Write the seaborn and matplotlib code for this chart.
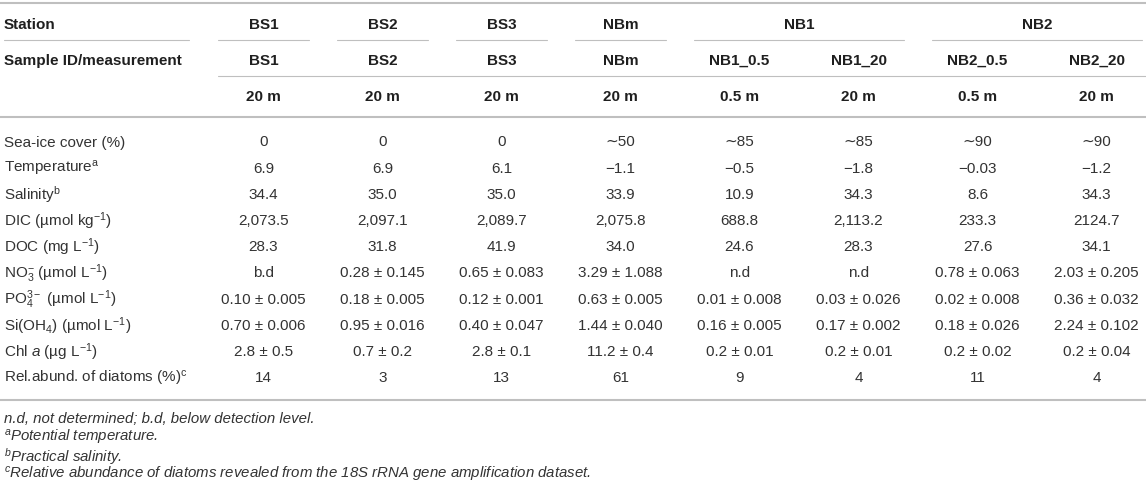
import numpy as np
import matplotlib
matplotlib.use("Agg")
import matplotlib.pyplot as plt
import seaborn as sns
from matplotlib.colors import ListedColormap

# Table content
stations = ["BS1", "BS2", "BS3", "NBm", "NB1", "NB2"]
station_spans = [1, 1, 1, 1, 2, 2]
sample_ids = ["BS1", "BS2", "BS3", "NBm", "NB1_0.5", "NB1_20", "NB2_0.5", "NB2_20"]
depths = ["20 m", "20 m", "20 m", "20 m", "0.5 m", "20 m", "0.5 m", "20 m"]

row_labels = [
    "Sea-ice cover (%)",
    r"Temperature$^{\mathrm{a}}$",
    r"Salinity$^{\mathrm{b}}$",
    r"DIC (µmol kg$^{-1}$)",
    r"DOC (mg L$^{-1}$)",
    r"NO$_{3}^{-}$ (µmol L$^{-1}$)",
    r"PO$_{4}^{3-}$ (µmol L$^{-1}$)",
    r"Si(OH$_{4}$) (µmol L$^{-1}$)",
    r"Chl $\mathit{a}$ (µg L$^{-1}$)",
    r"Rel.abund. of diatoms (%)$^{\mathrm{c}}$",
]

sea_ice = ["0", "0", "0", "∼50", "∼85", "∼85", "∼90", "∼90"]
temperature = ["6.9", "6.9", "6.1", "−1.1", "−0.5", "−1.8", "−0.03", "−1.2"]
salinity = ["34.4", "35.0", "35.0", "33.9", "10.9", "34.3", "8.6", "34.3"]
dic = ["2,073.5", "2,097.1", "2,089.7", "2,075.8", "688.8", "2,113.2", "233.3", "2124.7"]
doc = ["28.3", "31.8", "41.9", "34.0", "24.6", "28.3", "27.6", "34.1"]
no3 = ["b.d", "0.28 ± 0.145", "0.65 ± 0.083", "3.29 ± 1.088", "n.d", "n.d",
       "0.78 ± 0.063", "2.03 ± 0.205"]
po4 = ["0.10 ± 0.005", "0.18 ± 0.005", "0.12 ± 0.001", "0.63 ± 0.005",
       "0.01 ± 0.008", "0.03 ± 0.026", "0.02 ± 0.008", "0.36 ± 0.032"]
sioh4 = ["0.70 ± 0.006", "0.95 ± 0.016", "0.40 ± 0.047", "1.44 ± 0.040",
         "0.16 ± 0.005", "0.17 ± 0.002", "0.18 ± 0.026", "2.24 ± 0.102"]
chl_a = ["2.8 ± 0.5", "0.7 ± 0.2", "2.8 ± 0.1", "11.2 ± 0.4",
         "0.2 ± 0.01", "0.2 ± 0.01", "0.2 ± 0.02", "0.2 ± 0.04"]
diatoms = ["14", "3", "13", "61", "9", "4", "11", "4"]

footnotes = [
    "n.d, not determined; b.d, below detection level.",
    r"$^{a}$Potential temperature.",
    r"$^{b}$Practical salinity.",
    r"$^{c}$Relative abundance of diatoms revealed from the 18S rRNA gene amplification dataset.",
]

sns.set_theme(style="white")
plt.rcParams["font.family"] = ["Liberation Sans", "DejaVu Sans"]
plt.rcParams["mathtext.fontset"] = "custom"
plt.rcParams["mathtext.rm"] = "Liberation Sans"
plt.rcParams["mathtext.it"] = "Liberation Sans:italic"
plt.rcParams["mathtext.bf"] = "Liberation Sans:bold"

body_c = "#333333"
head_c = "#1f1f1f"
line_c = "#bfbfbf"
fs = 11
fs_note = 10.8

# layout in pixels
W, H = 1146, 489
label_right = 204
col_w = 119
row_top = 129.4
row_h = 26.2
n_rows, n_cols = len(row_labels), len(sample_ids)

fig = plt.figure(figsize=(W / 100, H / 100), dpi=100)

# body cells drawn as a blank heatmap with text annotations
annot = np.array([sea_ice, temperature, salinity, dic, doc, no3, po4, sioh4, chl_a, diatoms],
                 dtype=object)
hm_ax = fig.add_axes([label_right / W, 1 - (row_top + n_rows * row_h) / H,
                      n_cols * col_w / W, n_rows * row_h / H])
sns.heatmap(np.zeros(annot.shape), annot=annot, fmt="", cmap=ListedColormap(["white"]),
            cbar=False, xticklabels=False, yticklabels=False, ax=hm_ax,
            annot_kws=dict(fontsize=fs, color=body_c))

# overlay for headers, labels and rules
ov = fig.add_axes([0, 0, 1, 1])
ov.set_xlim(0, W)
ov.set_ylim(H, 0)
ov.axis("off")
ov.patch.set_alpha(0)


def col_center(i):
    return label_right + (i + 0.5) * col_w


# rules
ov.plot([0, W], [4, 4], color=line_c, lw=1.5)
ov.plot([0, W], [118, 118], color=line_c, lw=1.5)
ov.plot([0, W], [401, 401], color=line_c, lw=1.5)
ov.plot([4, 189], [41, 41], color=line_c, lw=0.8)
ov.plot([218, W], [77, 77], color=line_c, lw=0.8)

# header rows
ov.text(4, 25, "Station", ha="left", va="center", fontsize=fs, fontweight="bold", color=head_c)
ov.text(4, 61, "Sample ID/measurement", ha="left", va="center", fontsize=fs,
        fontweight="bold", color=head_c)
start = 0
for name, span in zip(stations, station_spans):
    left = label_right + start * col_w
    right = label_right + (start + span) * col_w
    ov.text((left + right) / 2, 25, name, ha="center", va="center", fontsize=fs,
            fontweight="bold", color=head_c)
    ov.plot([left + 14, right - 14], [41, 41], color=line_c, lw=0.8)
    start += span

for i, (sid, d) in enumerate(zip(sample_ids, depths)):
    ov.text(col_center(i), 61, sid, ha="center", va="center", fontsize=fs,
            fontweight="bold", color=head_c)
    ov.text(col_center(i), 97, d, ha="center", va="center", fontsize=fs,
            fontweight="bold", color=head_c)

# row labels
for r, lab in enumerate(row_labels):
    ov.text(4, row_top + (r + 0.5) * row_h, lab, ha="left", va="center",
            fontsize=fs, color=body_c)

# footnotes
for k, note in enumerate(footnotes):
    ov.text(4, 419 + k * 18.6, note, ha="left", va="center", fontsize=fs_note,
            style="italic", color=body_c)

fig.savefig("out.png", dpi=100)
